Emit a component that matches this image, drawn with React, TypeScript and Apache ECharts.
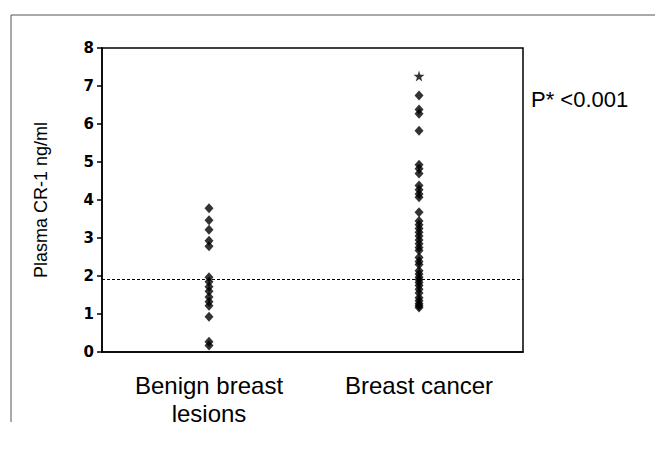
import React, { useEffect, useRef } from "react";
import * as echarts from "echarts";

const categories = ["Benign breast\nlesions", "Breast cancer"];
const yTicks = [0, 1, 2, 3, 4, 5, 6, 7, 8];
const benignValues = [3.78, 3.47, 3.22, 2.93, 2.78, 1.97, 1.85, 1.72, 1.6, 1.45, 1.32, 1.22, 0.93, 0.27, 0.17];
const cancerValues = [
  6.75, 6.38, 6.27, 5.82, 4.93, 4.82, 4.7, 4.38, 4.27, 4.16, 4.07, 3.68,
  3.45, 3.35, 3.25, 3.15, 3.05, 2.95, 2.85, 2.75, 2.67, 2.49, 2.38, 2.3,
  2.14, 2.05, 1.97, 1.9, 1.83, 1.75, 1.65, 1.55, 1.43, 1.35, 1.27, 1.22, 1.17,
];
const outlierValue = [7.26];
const cutoff = 1.92;
const pText = "P* <0.001";
const yName = "Plasma CR-1 ng/ml";

const STAR = "path://M50,0 L61,35 L98,35 L68,57 L79,91 L50,70 L21,91 L32,57 L2,35 L39,35 Z";

export default function App() {
  const ref = useRef<HTMLDivElement>(null);
  useEffect(() => {
    if (!ref.current) return;
    const chart = echarts.init(ref.current, null, { renderer: "svg" });
    chart.setOption({
      animation: false,
      backgroundColor: "#ffffff",
      grid: {
        left: 102,
        right: 132,
        top: 48,
        bottom: 97,
        show: true,
        borderColor: "#000",
        borderWidth: 1.5,
      },
      xAxis: {
        type: "value",
        min: -0.5095,
        max: 1.495,
        splitLine: { show: false },
        axisTick: { show: false },
        axisLine: { show: true, onZero: false, lineStyle: { color: "#000", width: 1.5 } },
        axisLabel: {
          customValues: [0, 1],
          formatter: (v: number) => categories[Math.round(v)] ?? "",
          color: "#000",
          fontFamily: "Liberation Sans",
          fontSize: 24,
          lineHeight: 28,
          margin: 19,
        },
      },
      yAxis: {
        type: "value",
        min: yTicks[0],
        max: yTicks[yTicks.length - 1],
        interval: 1,
        name: yName,
        nameLocation: "middle",
        nameGap: 52,
        nameTextStyle: { fontFamily: "Liberation Sans", fontSize: 18, color: "#000" },
        splitLine: { show: false },
        axisLine: { show: true, onZero: false, lineStyle: { color: "#000", width: 1.5 } },
        axisTick: { show: true, length: 5, lineStyle: { color: "#000", width: 1.5 } },
        axisLabel: {
          color: "#000",
          fontFamily: "DejaVu Sans",
          fontWeight: "bold",
          fontSize: 15,
          margin: 8,
        },
      },
      series: [
        {
          type: "scatter",
          symbol: "diamond",
          symbolSize: [9, 10],
          itemStyle: { color: "#000" },
          data: benignValues.map((v) => [0, v]),
          markLine: {
            silent: true,
            symbol: "none",
            label: { show: false },
            lineStyle: { color: "#000", type: [3, 2], width: 1 },
            data: [{ yAxis: cutoff }],
          },
        },
        {
          type: "scatter",
          symbol: "diamond",
          symbolSize: [9, 10],
          itemStyle: { color: "#000" },
          data: cancerValues.map((v) => [1, v]),
        },
        {
          type: "scatter",
          symbol: STAR,
          symbolSize: 11,
          itemStyle: { color: "#000" },
          data: outlierValue.map((v) => [1, v]),
        },
      ],
      graphic: [
        {
          type: "line",
          shape: { x1: 11, y1: 15, x2: 655, y2: 15 },
          style: { stroke: "#555", lineWidth: 1 },
        },
        {
          type: "line",
          shape: { x1: 11, y1: 15, x2: 11, y2: 422 },
          style: { stroke: "#555", lineWidth: 1 },
        },
        {
          type: "text",
          left: 531,
          top: 88,
          style: { text: pText, fontFamily: "Liberation Sans", fontSize: 22, fill: "#000" },
        },
      ],
    });
    return () => chart.dispose();
  }, []);
  return <div ref={ref} style={{ width: 655, height: 449, position: "absolute", left: 0, top: 0 }} />;
}
